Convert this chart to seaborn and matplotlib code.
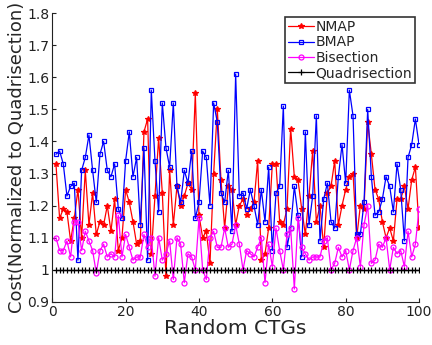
import matplotlib
matplotlib.use("Agg")
import matplotlib.pyplot as plt
import numpy as np
import pandas as pd
import seaborn as sns
from matplotlib.ticker import FormatStrFormatter

# Valores (100 CTGs aleatorios)
ctg = np.arange(1, 101)

nmap = [1.33, 1.16, 1.19, 1.18, 1.09, 1.16, 1.25, 1.10, 1.31, 1.14,
        1.24, 1.11, 1.15, 1.14, 1.20, 1.12, 1.22, 1.06, 1.10, 1.25,
        1.21, 1.15, 1.08, 1.09, 1.43, 1.47, 1.05, 1.23, 1.41, 1.24,
        0.98, 1.31, 1.14, 1.26, 1.20, 1.23, 1.27, 1.25, 1.55, 1.17,
        1.10, 1.12, 1.02, 1.30, 1.50, 1.28, 1.13, 1.26, 1.25, 1.14,
        1.20, 1.22, 1.17, 1.19, 1.21, 1.34, 1.03, 1.05, 1.13, 1.33,
        1.33, 1.15, 1.14, 1.19, 1.44, 1.29, 1.28, 1.19, 1.11, 1.23,
        1.37, 1.15, 1.20, 1.07, 1.24, 1.26, 1.34, 1.14, 1.20, 1.25,
        1.29, 1.30, 1.10, 1.20, 1.19, 1.46, 1.36, 1.25, 1.22, 1.15,
        1.10, 1.13, 1.09, 1.22, 1.22, 1.26, 1.19, 1.28, 1.32, 1.13]

bmap = [1.36, 1.37, 1.33, 1.23, 1.26, 1.27, 1.03, 1.31, 1.35, 1.42,
        1.31, 1.21, 1.36, 1.40, 1.31, 1.29, 1.33, 1.19, 1.16, 1.34,
        1.43, 1.29, 1.35, 1.14, 1.38, 1.03, 1.56, 1.34, 1.18, 1.52,
        1.38, 1.32, 1.52, 1.26, 1.21, 1.31, 1.27, 1.37, 1.16, 1.21,
        1.37, 1.35, 1.20, 1.52, 1.46, 1.24, 1.21, 1.31, 1.12, 1.61,
        1.23, 1.24, 1.19, 1.25, 1.20, 1.14, 1.25, 1.15, 1.32, 1.06,
        1.24, 1.26, 1.51, 1.07, 1.13, 1.26, 1.17, 1.04, 1.43, 1.14,
        1.23, 1.48, 1.09, 1.22, 1.27, 1.15, 1.13, 1.29, 1.39, 1.27,
        1.56, 1.48, 1.11, 1.11, 1.21, 1.50, 1.29, 1.17, 1.18, 1.22,
        1.29, 1.26, 1.18, 1.33, 1.25, 1.09, 1.35, 1.39, 1.47, 1.39]

biseccion = [1.10, 1.06, 1.06, 1.09, 1.04, 1.15, 1.15, 1.06, 1.12, 1.09,
             1.06, 0.99, 1.06, 1.08, 1.04, 1.05, 1.04, 1.17, 1.04, 1.11,
             1.07, 1.03, 1.04, 1.04, 1.11, 1.07, 1.10, 0.98, 1.10, 1.03,
             1.05, 1.09, 0.97, 1.10, 1.08, 0.96, 1.05, 1.04, 1.00, 1.16,
             1.00, 0.97, 1.10, 1.12, 1.07, 1.07, 1.13, 1.07, 1.08, 1.14,
             1.08, 1.00, 1.06, 1.05, 1.04, 1.07, 1.10, 0.96, 1.08, 1.01,
             1.13, 1.06, 1.00, 1.11, 1.13, 0.94, 1.16, 1.07, 1.05, 1.03,
             1.04, 1.04, 1.04, 1.09, 1.10, 1.00, 1.02, 1.07, 1.04, 1.06,
             1.00, 1.06, 1.10, 1.01, 1.14, 1.20, 1.02, 1.03, 1.08, 1.07,
             1.10, 1.00, 1.07, 1.05, 1.06, 1.01, 1.12, 1.04, 1.08, 1.19]

cuadriseccion = [1.0] * 100

series = [
    ("NMAP", nmap, "red", "*", 4.0),
    ("BMAP", bmap, "blue", "s", 3.3),
    ("Bisection", biseccion, "magenta", "o", 3.6),
    ("Quadrisection", cuadriseccion, "black", "+", 4.0),
]

sns.set_style("ticks")
plt.rcParams["font.family"] = ["DejaVu Sans"]

fig = plt.figure(figsize=(4.32, 3.45), dpi=100)
ax = fig.add_axes([0.121, 0.125, 0.849, 0.837])

for nombre, valores, color, marca, tam in series:
    df = pd.DataFrame({"ctg": ctg, "costo": valores})
    hueco = marca in ("s", "o")
    sns.lineplot(data=df, x="ctg", y="costo", ax=ax, color=color, label=nombre,
                 marker=marca, markersize=tam,
                 markerfacecolor="none" if hueco else color,
                 markeredgecolor=color, markeredgewidth=0.9,
                 linewidth=0.9)

ax.set_xlim(0, 100)
ax.set_ylim(0.9, 1.8)
ax.set_xticks([0, 20, 40, 60, 80, 100])
ax.set_yticks(np.round(np.arange(0.9, 1.81, 0.1), 1))
ax.yaxis.set_major_formatter(FormatStrFormatter("%g"))
ax.tick_params(direction="in", length=3, labelsize=10, colors="#222222", pad=2)
sns.despine(ax=ax)
for s in ("left", "bottom"):
    ax.spines[s].set_color("#222222")
    ax.spines[s].set_linewidth(0.8)

ax.set_xlabel("Random CTGs", fontsize=14.5, labelpad=0)
ax.set_ylabel("Cost(Normalized to Quadrisection)", fontsize=13, labelpad=1)

leg = ax.legend(loc="upper right", fontsize=10, frameon=True, fancybox=False,
                edgecolor="black", handlelength=1.9, handletextpad=0.1,
                borderpad=0.2, labelspacing=0.1, borderaxespad=0.3)
leg.get_frame().set_linewidth(1.2)

fig.savefig("out.png", dpi=100)
